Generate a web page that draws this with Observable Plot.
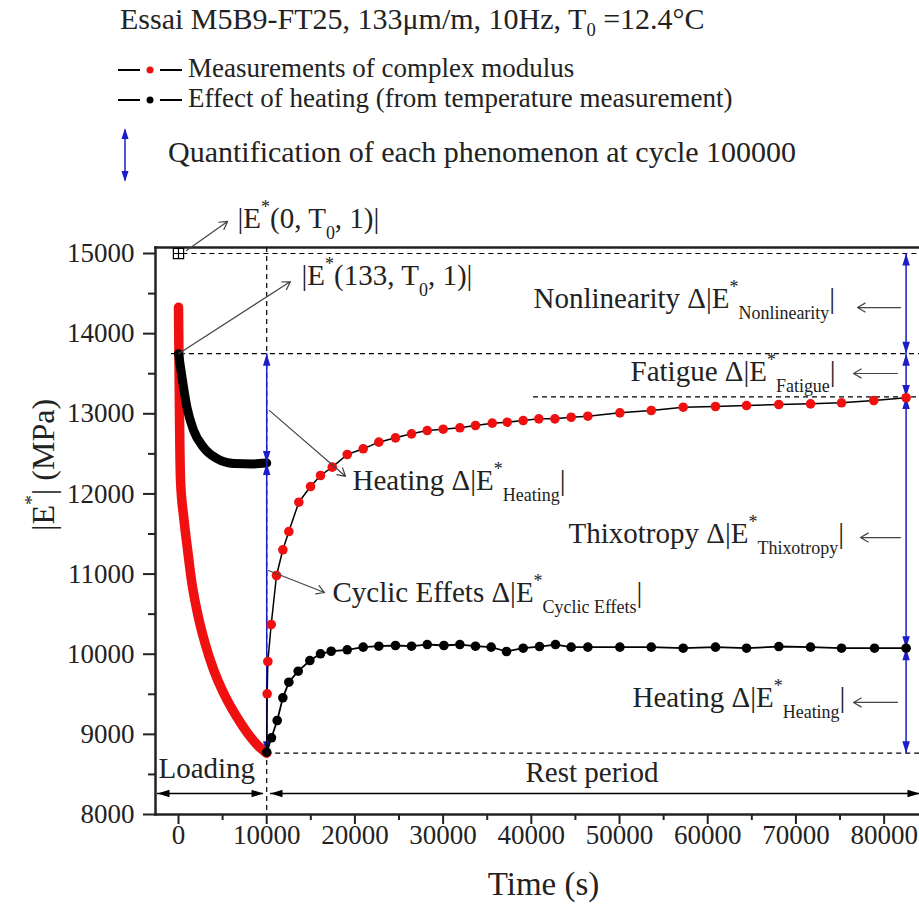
<!DOCTYPE html>
<html><head><meta charset="utf-8">
<script src="https://cdn.jsdelivr.net/npm/d3@7"></script>
<script src="https://cdn.jsdelivr.net/npm/@observablehq/plot@0.6"></script>
<style>
body{margin:0;background:#fff;font-family:"Liberation Serif","Times New Roman",serif;color:#222;}
#wrap{width:919px;height:919px;position:relative;overflow:hidden;}
#head{position:relative;height:190px;width:919px;}
#head .t{position:absolute;white-space:nowrap;line-height:1;}
#head sub{font-size:0.62em;vertical-align:-0.35em;line-height:0;}
#chart svg{display:block;}
</style></head><body>
<div id="wrap">
  <div id="head">
    <div class="t" style="left:120px;top:4px;font-size:30px">Essai M5B9-FT25, 133μm/m, 10Hz, T<sub>0</sub> =12.4°C</div>
    <svg style="position:absolute;left:116px;top:60px" width="70" height="20">
      <line x1="2" y1="10" x2="24" y2="10" stroke="#000" stroke-width="2"/>
      <circle cx="34" cy="10" r="3.5" fill="#f01010"/>
      <line x1="44" y1="10" x2="66" y2="10" stroke="#000" stroke-width="2"/>
    </svg>
    <div class="t" style="left:188px;top:55px;font-size:27px">Measurements of complex modulus</div>
    <svg style="position:absolute;left:116px;top:90px" width="70" height="20">
      <line x1="2" y1="10" x2="24" y2="10" stroke="#000" stroke-width="2"/>
      <circle cx="34" cy="10" r="3.5" fill="#000"/>
      <line x1="44" y1="10" x2="66" y2="10" stroke="#000" stroke-width="2"/>
    </svg>
    <div class="t" style="left:188px;top:85px;font-size:27px">Effect of heating (from temperature measurement)</div>
    <svg style="position:absolute;left:115px;top:126px" width="20" height="58">
      <line x1="10" y1="4" x2="10" y2="54" stroke="#1c1cc8" stroke-width="1.5"/>
      <polygon points="10,2 6.5,13 13.5,13" fill="#1c1cc8"/>
      <polygon points="10,56 6.5,45 13.5,45" fill="#1c1cc8"/>
    </svg>
    <div class="t" style="left:168px;top:137px;font-size:30px">Quantification of each phenomenon at cycle 100000</div>
  </div>
  <div id="chart"></div>
</div>
<script>
// ---- data ----
const redLoadTime    = [0, 60, 130, 230, 600, 1000, 1500, 2100, 3000, 4000, 5000, 6000, 7000, 8000, 9000, 10000];
const redLoadModulus = [14330, 13600, 12800, 12170, 11700, 11330, 10900, 10540, 10140, 9800, 9540, 9330, 9150, 8990, 8860, 8765];

const heatLoadTime    = [0, 390, 960, 1720, 2850, 4370, 6260, 8530, 10000];
const heatLoadModulus = [13750, 13460, 13080, 12790, 12580, 12440, 12380, 12375, 12385];

const redRestTime = [10000, 10050, 10130, 10510, 11110, 11830, 12510, 13640, 14970, 16100, 17430, 19130, 20940, 22710, 24600, 26420, 28200, 30010, 31900, 33670, 35570, 37270, 39080, 40850, 42670, 44520, 46410, 50040, 53600, 57220, 60880, 64400, 68060, 71660, 75170, 78830, 82490];
const redRestModulus = [8765, 9506, 9909, 10371, 10982, 11303, 11531, 11897, 12092, 12230, 12334, 12492, 12563, 12646, 12700, 12750, 12791, 12808, 12825, 12854, 12883, 12895, 12916, 12937, 12937, 12957, 12970, 13012, 13041, 13082, 13091, 13103, 13116, 13124, 13137, 13166, 13200];

const heatRestTime = [10000, 10540, 11190, 11830, 12510, 13570, 14890, 16100, 17310, 19130, 20940, 22710, 24600, 26420, 28200, 30090, 31900, 33670, 35450, 37190, 39080, 40930, 42740, 44520, 46410, 50040, 53600, 57220, 60880, 64400, 68060, 71660, 75170, 78910, 82490];
const heatRestModulus = [8777, 8957, 9173, 9456, 9651, 9788, 9921, 10005, 10037, 10055, 10088, 10100, 10109, 10100, 10121, 10109, 10121, 10100, 10088, 10034, 10075, 10096, 10121, 10088, 10088, 10088, 10088, 10075, 10088, 10075, 10096, 10088, 10075, 10075, 10075];

const xTicks = [0, 10000, 20000, 30000, 40000, 50000, 60000, 70000, 80000];
const xTickLabels = ["0", "10000", "20000", "30000", "40000", "50000", "60000", "70000", "80000"];
const xMinorTicks = [5000, 15000, 25000, 35000, 45000, 55000, 65000, 75000];
const yTicks = [8000, 9000, 10000, 11000, 12000, 13000, 14000, 15000];
const yTickLabels = ["8000", "9000", "10000", "11000", "12000", "13000", "14000", "15000"];
const yMinorTicks = [8500, 9500, 10500, 11500, 12500, 13500, 14500];

const xDomain = [-2608, 84010];
const yDomain = [8000, 15075];

// reference levels (dashed)
const levelModulus = [15000, 13750, 13210, 8765];
const levelStart   = [500, -800, 40250, 10000];
const loadingEnd = 10000;

// quantification arrows
const quantTime = 82490;
const rightFrom = [15000, 13750, 13210, 10075];
const rightTo   = [13750, 13210, 10075, 8765];
const leftFrom  = [13750, 12385];
const leftTo    = [12385, 8765];

// phases (bottom arrows)
const phaseModulus = 8262;
const phaseStart = [-2380, 10430];
const phaseEnd   = [9640, 84010];
const phaseLabels = ["Loading", "Rest period"];
const phaseLabelTime = [-2270, 39340];
const phaseLabelModulus = [8574, 8524];

// annotations
const annoLabels = [
  "|E^{*}(0, T_{0}, 1)|",
  "|E^{*}(133, T_{0}, 1)|",
  "Heating Δ|E^{*}_{Heating}|",
  "Cyclic Effets Δ|E^{*}_{Cyclic Effets}|",
  "Nonlinearity Δ|E^{*}_{Nonlinearity}|",
  "Fatigue Δ|E^{*}_{Fatigue}|",
  "Thixotropy Δ|E^{*}_{Thixotropy}|",
  "Heating Δ|E^{*}_{Heating}|"
];
const annoTime    = [6690, 13950, 19730, 17460, 40250, 51250, 44220, 51470];
const annoModulus = [15437, 14725, 12170, 10770, 14440, 13528, 11506, 9460];

const pointerX1 = [907, 0, 10320, 10200, 81860, 81520, 81860, 81520];
const pointerY1 = [15037, 13750, 13040, 11045, 14326, 13503, 11456, 9398];
const pointerX2 = [5560, 12700, 18930, 16550, 76980, 76530, 77320, 76530];
const pointerY2 = [15400, 14650, 12220, 10770, 14326, 13503, 11456, 9398];

// ---- build tables ----
const zip = (xs, ys) => xs.map((t, i) => ({t, E: ys[i]}));
const redLoad = zip(redLoadTime, redLoadModulus);
const heatLoad = zip(heatLoadTime, heatLoadModulus);
const redRest = zip(redRestTime, redRestModulus);
const heatRest = zip(heatRestTime, heatRestModulus);
const xTickTable = xTicks.map((v, i) => ({v, label: xTickLabels[i]}));
const yTickTable = yTicks.map((v, i) => ({v, label: yTickLabels[i]}));
const levels = levelModulus.map((E, i) => ({E, x1: levelStart[i], x2: xDomain[1]}));
const quantSegs = [
  ...rightFrom.map((a, i) => ({t: quantTime, a, b: rightTo[i]})),
  ...leftFrom.map((a, i) => ({t: loadingEnd, a, b: leftTo[i]}))
];
const quantHeads = quantSegs.flatMap(s => [{t: s.t, E: s.a, rot: 0}, {t: s.t, E: s.b, rot: 180}]);
const phases = phaseStart.map((a, i) => ({a, b: phaseEnd[i]}));
const phaseHeads = phases.flatMap(p => [{t: p.a, E: phaseModulus, rot: -90}, {t: p.b, E: phaseModulus, rot: 90}]);
const annos = annoLabels.map((text, i) => ({text, t: annoTime[i], E: annoModulus[i]}));
const pointers = pointerX1.map((x1, i) => ({x1, y1: pointerY1[i], x2: pointerX2[i], y2: pointerY2[i]}));
const phaseText = phaseLabels.map((text, i) => ({text, t: phaseLabelTime[i], E: phaseLabelModulus[i]}));

// custom symbols
const head = {draw(ctx, size) { const r = Math.sqrt(size / Math.PI); ctx.moveTo(0, 0); ctx.lineTo(0.75 * r, 2.4 * r); ctx.lineTo(-0.75 * r, 2.4 * r); ctx.closePath(); }};
const squareCross = {draw(ctx, size) { const s = Math.sqrt(size / Math.PI) * 1.6; ctx.moveTo(-s, -s); ctx.lineTo(s, -s); ctx.lineTo(s, s); ctx.lineTo(-s, s); ctx.closePath(); ctx.moveTo(0, -s); ctx.lineTo(0, s); ctx.moveTo(-s, 0); ctx.lineTo(s, 0); }};

const RED = "#f01010", BLUE = "#1c1cc8", FS = 29;
const FONT = "Liberation Serif";
const dash = "5,4";

const plot = Plot.plot({
  width: 919, height: 729,
  marginLeft: 155, marginRight: 0, marginTop: 57, marginBottom: 105,
  style: {fontFamily: FONT, fontSize: "27px", background: "#fff", color: "#222", overflow: "visible"},
  x: {domain: xDomain},
  y: {domain: yDomain},
  marks: [
    Plot.axisX({ticks: xTicks, tickSize: 10, tickFormat: () => "", strokeWidth: 2, label: null}),
    Plot.axisX({ticks: xMinorTicks, tickSize: 6, tickFormat: () => "", strokeWidth: 2, label: null}),
    Plot.axisY({ticks: yTicks, tickSize: 12, tickFormat: () => "", strokeWidth: 2, label: null}),
    Plot.axisY({ticks: yMinorTicks, tickSize: 7, tickFormat: () => "", strokeWidth: 2, label: null}),
    Plot.text(xTickTable, {x: "v", text: "label", frameAnchor: "bottom", dy: 29, fontSize: 27, fontFamily: FONT, fill: "#222"}),
    Plot.text(yTickTable, {y: "v", text: "label", frameAnchor: "left", dx: -21, textAnchor: "end", fontSize: 27, fontFamily: FONT, fill: "#222"}),
    Plot.frame({anchor: "top", strokeWidth: 2.5}),
    Plot.frame({anchor: "left", strokeWidth: 2.5}),
    Plot.frame({anchor: "bottom", strokeWidth: 2.5}),
    // dashed reference levels
    Plot.ruleY(levels, {y: "E", x1: "x1", x2: "x2", stroke: "#000", strokeWidth: 1.2, strokeDasharray: dash}),
    Plot.ruleX([loadingEnd], {stroke: "#000", strokeWidth: 1.2, strokeDasharray: dash}),
    // phase arrows
    Plot.ruleY(phases, {y: () => phaseModulus, x1: "a", x2: "b", stroke: "#000", strokeWidth: 1.3}),
    Plot.dot(phaseHeads, {x: "t", y: "E", symbol: head, r: 5, fill: "#000", rotate: "rot"}),
    Plot.text(phaseText, {x: "t", y: "E", text: "text", textAnchor: "start", fontSize: FS, fontFamily: FONT, fill: "#222"}),
    // loading curves (dense measurements)
    Plot.line(redLoad, {x: "t", y: "E", stroke: RED, strokeWidth: 9.5, curve: "monotone-x", strokeLinecap: "round"}),
    Plot.line(heatLoad, {x: "t", y: "E", stroke: "#000", strokeWidth: 9, curve: "monotone-x", strokeLinecap: "round"}),
    // blue quantification arrows
    Plot.ruleX(quantSegs, {x: "t", y1: "a", y2: "b", stroke: BLUE, strokeWidth: 1.5}),
    Plot.dot(quantHeads, {x: "t", y: "E", symbol: head, r: 5, fill: BLUE, rotate: "rot"}),
    // rest period
    Plot.line(redRest, {x: "t", y: "E", stroke: "#000", strokeWidth: 1.5}),
    Plot.dot(redRest.slice(1), {x: "t", y: "E", r: 4.8, fill: RED}),
    Plot.line(heatRest, {x: "t", y: "E", stroke: "#000", strokeWidth: 1.8}),
    Plot.dot(heatRest, {x: "t", y: "E", r: 4.8, fill: "#000"}),
    // E*(0,T0,1) marker
    Plot.dot([{t: 0, E: 15000}], {x: "t", y: "E", symbol: squareCross, r: 3.2, stroke: "#000", strokeWidth: 1.2, fill: "none"}),
    // pointers and labels
    Plot.arrow(pointers, {x1: "x1", y1: "y1", x2: "x2", y2: "y2", stroke: "#444", strokeWidth: 1.2, headLength: 11}),
    Plot.text(annos, {x: "t", y: "E", text: "text", textAnchor: "start", fontSize: FS, fontFamily: FONT, fill: "#222"}),
    // axis labels
    Plot.text([0], {frameAnchor: "left", dx: -112, rotate: -90, text: () => "|E^{*}| (MPa)", fontSize: 32, fontFamily: FONT, fill: "#222"}),
    Plot.text([0], {frameAnchor: "bottom", dx: 6, dy: 80, text: () => "Time (s)", fontSize: 33, fontFamily: FONT, fill: "#222"})
  ]
});
document.getElementById("chart").appendChild(plot);

// rich text: ^{sup} and _{sub}
function richify(root) {
  root.querySelectorAll("text").forEach(el => {
    const s = el.textContent;
    if (!/[\^_]\{/.test(s)) return;
    const fs = parseFloat(getComputedStyle(el).fontSize);
    el.textContent = "";
    const re = /([\^_])\{([^}]*)\}/g;
    let last = 0, cur = 0, m;
    const segs = [];
    while ((m = re.exec(s))) {
      if (m.index > last) segs.push([0, s.slice(last, m.index)]);
      segs.push([m[1] === "^" ? -1 : 1, m[2]]);
      last = re.lastIndex;
    }
    if (last < s.length) segs.push([0, s.slice(last)]);
    for (const [k, t] of segs) {
      const off = k < 0 ? -0.5 * fs : k > 0 ? 0.38 * fs : 0;
      const ts = document.createElementNS("http://www.w3.org/2000/svg", "tspan");
      if (off !== cur) ts.setAttribute("dy", off - cur);
      cur = off;
      if (k) ts.setAttribute("font-size", 0.62 * fs);
      ts.textContent = t;
      el.appendChild(ts);
    }
  });
}
richify(plot);
</script>
</body></html>
